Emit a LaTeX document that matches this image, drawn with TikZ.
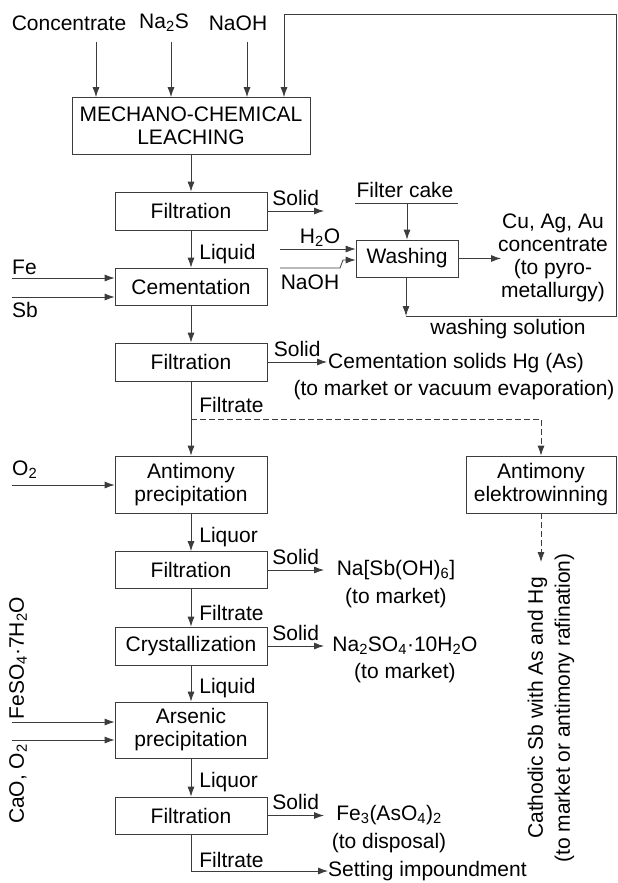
\documentclass[tikz,border=0pt]{standalone}
\usepackage{fontspec}
\setmainfont{Liberation Sans}
\usetikzlibrary{arrows.meta}
\definecolor{linegray}{RGB}{60,60,60}
\newcommand{\diagfont}{\fontsize{21}{23}\selectfont}
\newcommand{\sub}[1]{\textsubscript{#1}}
\begin{document}
\begin{tikzpicture}[x=1pt, y=-1pt,
    every node/.append style={font=\diagfont, inner sep=0pt},
    box/.style={draw=linegray, line width=0.8pt, align=center},
    arr/.style={draw=linegray, line width=0.8pt, -{Latex[length=10pt,width=7pt]}},
    ln/.style={draw=linegray, line width=0.8pt},
    lbl/.style={right, xshift=8pt, yshift=-5pt},
    solid lbl/.style={midway, above=5pt}]
    \useasboundingbox (0,0) rectangle (618,883);

    % Main chain
    \node[box, minimum width=238pt, minimum height=57pt] (leach) at (191,126) {MECHANO-CHEMICAL\\LEACHING};
    \node[box, minimum width=152pt, minimum height=38pt] (filt1) at (191,211) {Filtration};
    \node[box, minimum width=152pt, minimum height=37pt] (cem) at (191,286.5) {Cementation};
    \node[box, minimum width=152pt, minimum height=38pt] (filt2) at (191,362) {Filtration};
    \node[box, minimum width=152pt, minimum height=57pt] (sbprec) at (191,484.5) {Antimony\\precipitation};
    \node[box, minimum width=152pt, minimum height=37pt] (filt3) at (191,570) {Filtration};
    \node[box, minimum width=152pt, minimum height=38pt] (cryst) at (191,646) {Crystallization};
    \node[box, minimum width=152pt, minimum height=56pt] (asprec) at (191,730) {Arsenic\\precipitation};
    \node[box, minimum width=152pt, minimum height=37pt] (filt4) at (191,815.5) {Filtration};
    \node[box, minimum width=102pt, minimum height=37pt] (wash) at (407,258.5) {Washing};
    \node[box, minimum width=150pt, minimum height=57pt] (sbelec) at (541,484.5) {Antimony\\elektrowinning};

    % Feeds on top
    \node (conc) at (69,23) {Concentrate};
    \node (nas) at (164,23) {Na\sub{2}S};
    \node (naoh) at (238,23) {NaOH};
    \coordinate (concin) at (96,42);
    \coordinate (nasin) at (171,42);
    \coordinate (naohin) at (247,42);
    \draw[arr] (concin) -- (concin |- leach.north);
    \draw[arr] (nasin) -- (nasin |- leach.north);
    \draw[arr] (naohin) -- (naohin |- leach.north);

    % Main flow
    \draw[arr] (leach) -- (filt1);
    \draw[arr] (filt1) -- node[midway, lbl] {Liquid} (cem);
    \draw[arr] (cem) -- (filt2);
    \draw[arr] (filt2) -- node[pos=0.32, lbl, yshift=5pt] {Filtrate} (sbprec);
    \draw[arr] (sbprec) -- node[midway, lbl] {Liquor} (filt3);
    \draw[arr] (filt3) -- node[midway, lbl] {Filtrate} (cryst);
    \draw[arr] (cryst) -- node[midway, lbl] {Liquid} (asprec);
    \draw[arr] (asprec) -- node[midway, lbl] {Liquor} (filt4);
    \node[anchor=west] (settle) at (328,871) {Setting impoundment};
    \draw[arr] (filt4.south) |- node[pos=0.35, lbl, yshift=5pt] {Filtrate} (settle.west);

    % Side feeds
    \node[anchor=west] (fe) at (12,267) {Fe};
    \node[anchor=west] (sb) at (12,310) {Sb};
    \node[anchor=west] (otwo) at (12,470) {O\sub{2}};
    \coordinate (fein) at (12,278);
    \coordinate (sbin) at (12,297);
    \coordinate (otwoin) at (12,485);
    \draw[arr] (fein) -- (fein -| cem.west);
    \draw[arr] (sbin) -- (sbin -| cem.west);
    \draw[arr] (otwoin) -- (otwoin -| sbprec.west);
    \node[rotate=90] (feso) at (18,658) {FeSO\sub{4}{\char"00B7}7H\sub{2}O};
    \node[rotate=90] (cao) at (18,784) {CaO, O\sub{2}};
    \coordinate (fesoin) at (12,722);
    \coordinate (caoin) at (12,740);
    \draw[arr] (fesoin) -- (fesoin -| asprec.west);
    \draw[arr] (caoin) -- (caoin -| asprec.west);

    % Solid outputs
    \coordinate (s1) at (324,211);
    \coordinate (s2) at (327,362);
    \coordinate (s3) at (324,570);
    \coordinate (s4) at (324,646);
    \coordinate (s5) at (324,815.5);
    \draw[arr] (filt1.east) -- node[solid lbl] {Solid} (s1);
    \draw[arr] (filt2.east) -- node[solid lbl] {Solid} (s2);
    \draw[arr] (filt3.east) -- node[solid lbl] {Solid} (s3);
    \draw[arr] (cryst.east) -- node[solid lbl] {Solid} (s4);
    \draw[arr] (filt4.east) -- node[solid lbl] {Solid} (s5);
    \node[anchor=west] (cemsol) at (328,363) {Cementation solids Hg (As)};
    \node (cemsoltwo) at (454,390) {(to market or vacuum evaporation)};
    \node[align=center] (prodsb) at (396,584) {Na[Sb(OH)\sub{6}]\\[5pt](to market)};
    \node[align=center] (prodna) at (405,659.5) {Na\sub{2}SO\sub{4}{\char"00B7}10H\sub{2}O\\[4pt](to market)};
    \node[align=center] (prodfe) at (389,829) {Fe\sub{3}(AsO\sub{4})\sub{2}\\[5pt](to disposal)};

    % Washing loop
    \node (cake) at (405,190) {Filter cake};
    \coordinate (cakel) at (355,203);
    \coordinate (caker) at (458,203);
    \draw[ln] (cakel) -- (caker);
    \draw[arr] (wash.north |- cakel) -- (wash.north);
    \node (water) at (320,238) {H\sub{2}O};
    \node (washnaoh) at (310,282) {NaOH};
    \coordinate (waterin) at (280,249);
    \coordinate (washnaohin) at (280,268);
    \draw[arr] (waterin) -- (waterin -| wash.west);
    \draw[arr] (washnaohin) -- (340,268) -- (343,260) -- (wash.west |- 0,260);
    \coordinate (cuend) at (501,258.5);
    \draw[arr] (wash.east) -- (cuend);
    \node[align=center] (cuag) at (553,258) {Cu, Ag, Au\\concentrate\\(to pyro-\\metallurgy)};
    \coordinate (washout) at (406,316);
    \coordinate (loopin) at (284,14);
    \draw[arr] (wash.south -| washout) -- (washout);
    \draw[arr] (washout) -- (616,316) -- (616,14) -- (loopin) -- (loopin |- leach.north);
    \node (washsol) at (508,329) {washing solution};

    % Electrowinning branch
    \coordinate (split) at (191,419);
    \draw[arr, dash pattern=on 6pt off 3pt] (split) -| (sbelec.north);
    \coordinate (cathend) at (541,562);
    \draw[arr, dash pattern=on 6pt off 3pt] (sbelec.south) -- (cathend);
    \node[rotate=90, align=center] (cath) at (551,708) {Cathodic Sb with As and Hg\\[4pt](to market or antimony rafination)};
\end{tikzpicture}
\end{document}
